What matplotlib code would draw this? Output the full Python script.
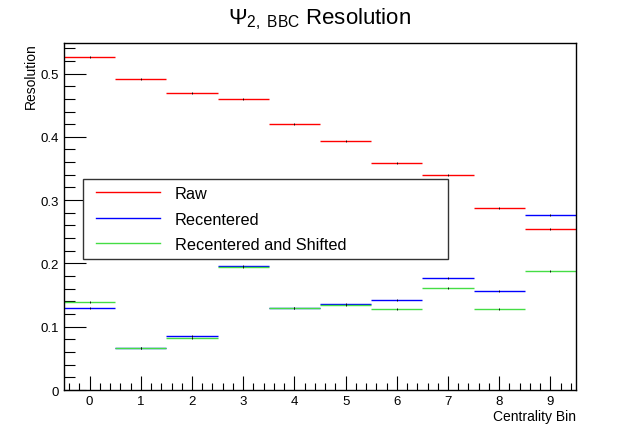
import numpy as np
import matplotlib
matplotlib.use('Agg')
import matplotlib.pyplot as plt
from matplotlib.ticker import MultipleLocator
from matplotlib.lines import Line2D
from matplotlib.legend_handler import HandlerBase

plt.rcParams['font.family'] = ['Liberation Sans', 'DejaVu Sans']
plt.rcParams['mathtext.fontset'] = 'custom'
plt.rcParams['mathtext.rm'] = 'Liberation Sans'
plt.rcParams['mathtext.it'] = 'Liberation Sans:italic'

centrality_bins = [0, 1, 2, 3, 4, 5, 6, 7, 8, 9]
raw = [0.526, 0.492, 0.470, 0.459, 0.421, 0.394, 0.358, 0.339, 0.287, 0.255]
recentered = [0.129, 0.067, 0.086, 0.196, 0.130, 0.136, 0.142, 0.177, 0.156, 0.276]
recentered_shifted = [0.139, 0.067, 0.082, 0.194, 0.130, 0.135, 0.128, 0.162, 0.128, 0.188]


class OffsetLine(HandlerBase):
    # legend line that starts a bit in from the frame, like ROOT's TLegend
    def create_artists(self, legend, orig, xdescent, ydescent, width, height, fontsize, trans):
        y = height / 2 - ydescent
        x0 = -xdescent + 0.086 * width
        l = Line2D([x0, width - xdescent], [y, y], color=orig.get_color(), lw=orig.get_linewidth())
        l.set_transform(trans)
        return [l]


fig = plt.figure(figsize=(6.4, 4.35), dpi=100)
ax = fig.add_axes([0.1, 0.101, 0.8, 0.799])

series = [
    (raw, 'red', 'Raw'),
    (recentered, 'blue', 'Recentered'),
    (recentered_shifted, '#44dd44', 'Recentered and Shifted'),
]
handles = []
for vals, col, lab in series:
    ax.errorbar(centrality_bins, vals, xerr=0.5, fmt='none', ecolor=col, elinewidth=1.0)
    ax.plot(centrality_bins, vals, ls='none', marker='|', color='k', ms=2, mew=0.6)
    handles.append(Line2D([], [], color=col, lw=1.0))

ax.set_xlim(-0.5, 9.5)
ax.set_ylim(0, 0.549)
ax.xaxis.set_major_locator(MultipleLocator(1))
ax.xaxis.set_minor_locator(MultipleLocator(0.2))
ax.yaxis.set_major_locator(MultipleLocator(0.1))
ax.yaxis.set_minor_locator(MultipleLocator(0.02))
ax.tick_params(axis='both', which='both', direction='in', top=False, right=False, labelsize=9.5)
ax.tick_params(axis='y', which='major', length=16, width=0.8)
ax.tick_params(axis='y', which='minor', length=8, width=0.8)
ax.tick_params(axis='x', which='major', length=10, width=0.8)
ax.tick_params(axis='x', which='minor', length=5, width=0.8)
ax.set_yticklabels(['0' if t == 0 else f'{t:.1f}' for t in ax.get_yticks()])
for s in ax.spines.values():
    s.set_linewidth(1.0)

ax.set_title(r'$\Psi_{2,\ \mathrm{BBC}}$ Resolution', fontsize=16, pad=14)
ax.set_ylabel('Resolution', fontsize=10)
ax.yaxis.set_label_coords(-0.052, 1.0)
ax.yaxis.label.set_ha('right')
ax.set_xlabel('Centrality Bin', fontsize=10)
ax.xaxis.set_label_coords(1.0, -0.055)
ax.xaxis.label.set_ha('right')

leg = ax.legend(handles, [s[2] for s in series], loc='center',
                bbox_to_anchor=(0.037, 0.383, 0.713, 0.218), mode='expand',
                fontsize=11.7, frameon=True, fancybox=False, edgecolor='#333333',
                framealpha=1, handlelength=4.3, handletextpad=0.92, borderpad=0.45,
                labelspacing=0.65, borderaxespad=0,
                handler_map={Line2D: OffsetLine()})
leg.get_frame().set_linewidth(1.0)

fig.savefig('out.png', dpi=100)
